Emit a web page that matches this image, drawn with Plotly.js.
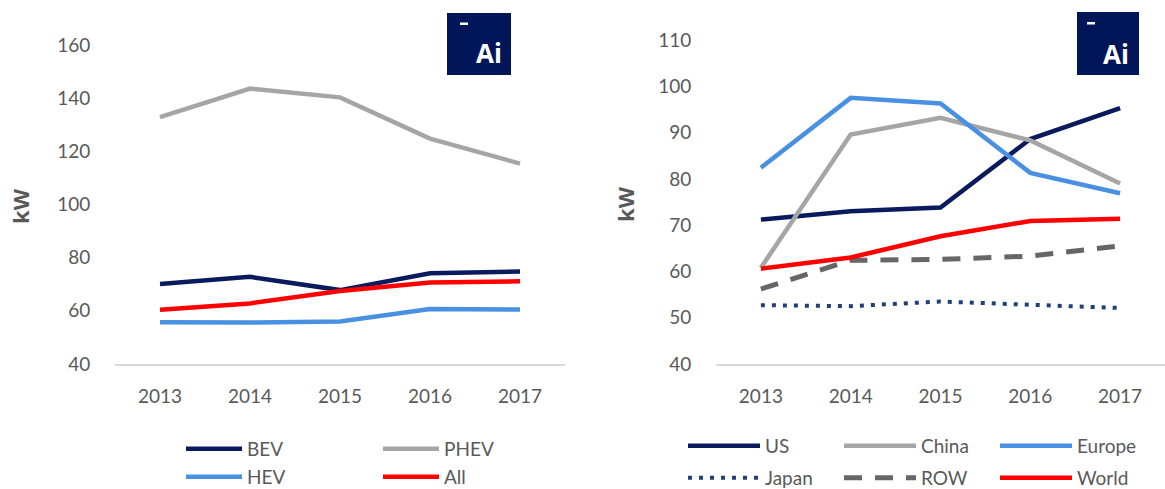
<!DOCTYPE html>
<html>
<head>
<meta charset="utf-8">
<script src="https://cdn.plot.ly/plotly-3.0.1.min.js"></script>
<style>html,body{margin:0;padding:0;background:#fff;}#chart{width:1165px;height:489px;}</style>
</head>
<body>
<div id="chart"></div>
<script>
// ---- data ----
const years = ['2013', '2014', '2015', '2016', '2017'];
// left panel: by powertrain
const bev  = [70.1, 72.8, 67.8, 74.1, 74.8];
const phev = [132.9, 143.6, 140.3, 124.8, 115.4];
const hev  = [55.7, 55.6, 56.0, 60.7, 60.5];
const all  = [60.4, 62.8, 67.5, 70.7, 71.1];
// right panel: by region
const us     = [71.2, 73.0, 73.8, 88.6, 95.3];
const china  = [60.8, 89.6, 93.2, 88.3, 79.0];
const europe = [82.4, 97.5, 96.3, 81.3, 76.9];
const japan  = [52.7, 52.5, 53.5, 52.9, 52.1];
const row    = [56.2, 62.4, 62.6, 63.3, 65.5];
const world  = [60.6, 63.0, 67.6, 70.9, 71.4];
const leftTicks = [40, 60, 80, 100, 120, 140, 160];
const rightTicks = [40, 50, 60, 70, 80, 90, 100, 110];

const NAVY = '#0A1A5C', GRAY = '#A5A5A5', BLUE = '#4A90E2', RED = '#FF0000',
      DGRAY = '#666666', JBLUE = '#203F78', TXT = '#595959';
const FONT = 'Lato, "Open Sans", sans-serif';
const W = 1165, H = 489;
const px = x => x / W, py = y => 1 - y / H;

function tr(name, y, color, xa, ya, leg, dash, width) {
  return {type: 'scatter', mode: 'lines', name: name, x: years, y: y,
    xaxis: xa, yaxis: ya, legend: leg,
    line: {color: color, width: width || 4.5, dash: dash || 'solid'},
    hoverinfo: 'skip'};
}

const data = [
  tr('BEV', bev, NAVY, 'x', 'y', 'legend'),
  tr('PHEV', phev, GRAY, 'x', 'y', 'legend'),
  tr('HEV', hev, BLUE, 'x', 'y', 'legend2'),
  tr('All', all, RED, 'x', 'y', 'legend2'),
  tr('US', us, NAVY, 'x2', 'y2', 'legend3'),
  tr('China', china, GRAY, 'x2', 'y2', 'legend3'),
  tr('Europe', europe, BLUE, 'x2', 'y2', 'legend3'),
  tr('Japan', japan, JBLUE, 'x2', 'y2', 'legend4', '4px,7px', 4),
  tr('ROW', row, DGRAY, 'x2', 'y2', 'legend4', '18px,13px', 5),
  tr('World', world, RED, 'x2', 'y2', 'legend4')
];

function xax(domain, anchor) {
  return {domain: domain, anchor: anchor, type: 'category', range: [-0.5, 4.5],
    showline: true, linecolor: '#D9D9D9', linewidth: 1.5, showgrid: false, zeroline: false,
    ticks: 'outside', ticklen: 15, tickcolor: 'rgba(0,0,0,0)', fixedrange: true,
    tickfont: {family: FONT, size: 19, color: TXT}};
}
function yax(domain, anchor, range, vals) {
  return {domain: domain, anchor: anchor, range: range, tickvals: vals,
    showline: false, showgrid: false, zeroline: false,
    ticks: 'outside', ticklen: 20, tickcolor: 'rgba(0,0,0,0)', fixedrange: true,
    tickfont: {family: FONT, size: 19, color: TXT}};
}

const legFont = {family: FONT, size: 19, color: TXT};
function leg(x, yc, ew, iw) {
  return {orientation: 'h', x: px(x), y: py(yc), xanchor: 'left', yanchor: 'middle',
    entrywidth: ew, itemwidth: iw, font: legFont, bgcolor: 'rgba(0,0,0,0)', borderwidth: 0,
    tracegroupgap: 0, itemclick: false, itemdoubleclick: false};
}
const layout = {
  width: W, height: H, margin: {l: 0, r: 0, t: 0, b: 0, autoexpand: false},
  paper_bgcolor: '#fff', plot_bgcolor: '#fff', showlegend: true,
  xaxis: xax([px(115), px(565)], 'y'),
  yaxis: yax([py(364), py(45)], 'x', [40, 160], leftTicks),
  xaxis2: xax([px(716), 1], 'y2'),
  yaxis2: yax([py(364), py(40)], 'x2', [40, 110], rightTicks),
  legend: leg(181, 449, 126, 56),
  legend2: leg(181, 477, 126, 56),
  legend3: leg(683, 446, 69, 72),
  legend4: leg(683, 478, 69, 72),
  shapes: [
    {type: 'rect', xref: 'paper', yref: 'paper', x0: px(447), x1: px(511), y0: py(13), y1: py(75),
      fillcolor: '#001659', line: {width: 0}},
    {type: 'rect', xref: 'paper', yref: 'paper', x0: px(460), x1: px(468), y0: py(22.5), y1: py(25),
      fillcolor: '#fff', line: {width: 0}},
    {type: 'rect', xref: 'paper', yref: 'paper', x0: px(1077), x1: px(1139), y0: py(12), y1: py(75),
      fillcolor: '#001659', line: {width: 0}},
    {type: 'rect', xref: 'paper', yref: 'paper', x0: px(1087), x1: px(1095), y0: py(22), y1: py(24.5),
      fillcolor: '#fff', line: {width: 0}}
  ],
  annotations: [
    {text: '<b>Ai</b>', xref: 'paper', yref: 'paper', x: px(489), y: py(53), xanchor: 'center', yanchor: 'middle',
      showarrow: false, font: {family: '"Open Sans", sans-serif', size: 26, color: '#fff', weight: 700}},
    {text: '<b>Ai</b>', xref: 'paper', yref: 'paper', x: px(1115.5), y: py(53.5), xanchor: 'center', yanchor: 'middle',
      showarrow: false, font: {family: '"Open Sans", sans-serif', size: 26, color: '#fff', weight: 700}},
    {text: '<b>kW</b>', xref: 'paper', yref: 'paper', x: px(20), y: py(206), xanchor: 'center', yanchor: 'middle',
      showarrow: false, textangle: -90, font: {family: '"Open Sans", sans-serif', size: 22, color: TXT, weight: 700}},
    {text: '<b>kW</b>', xref: 'paper', yref: 'paper', x: px(625), y: py(204), xanchor: 'center', yanchor: 'middle',
      showarrow: false, textangle: -90, font: {family: '"Open Sans", sans-serif', size: 22, color: TXT, weight: 700}}
  ]
};

Plotly.newPlot('chart', data, layout, {displayModeBar: false, staticPlot: true});
</script>
</body>
</html>
